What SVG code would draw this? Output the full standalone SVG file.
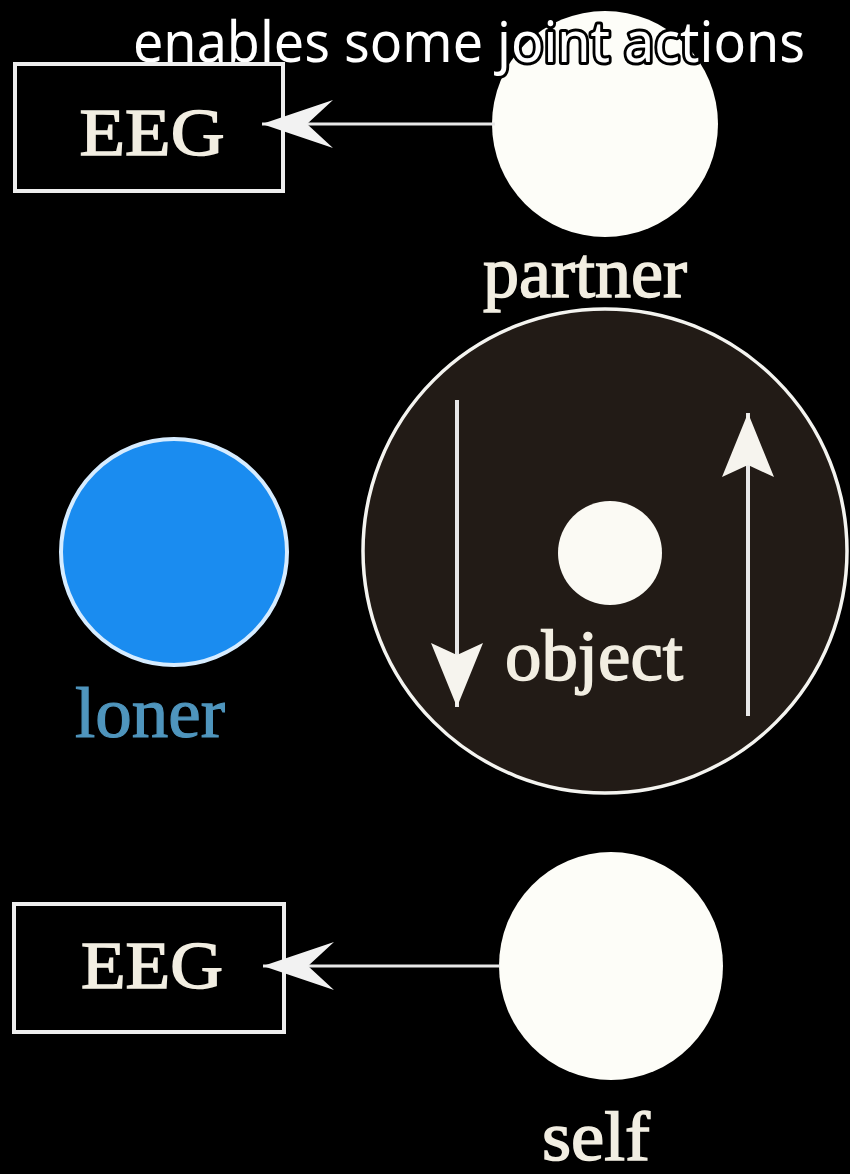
<svg xmlns="http://www.w3.org/2000/svg" width="850" height="1174" viewBox="0 0 850 1174">
<style>
.serif{font-family:"Liberation Serif","Times New Roman",serif;fill:#f2eee2;stroke:#f2eee2;stroke-width:1.5}
.box{fill:#000;stroke:#eeeeee;stroke-width:4}
.conn{stroke:#e8e8e8;fill:none}
.title{font-family:"Noto Sans","Open Sans",sans-serif;font-size:56px;fill:#fff;stroke:#000;stroke-width:6;paint-order:stroke;stroke-linejoin:round}
</style>
<defs>
<marker id="hHead" markerUnits="userSpaceOnUse" markerWidth="80" markerHeight="60" viewBox="0 -30 80 60" refX="71" refY="0" orient="auto" overflow="visible">
<path d="M0,-24 L71,0 L0,24 L26,0 Z" fill="#f2f2f2"/>
</marker>
<marker id="vHead" markerUnits="userSpaceOnUse" markerWidth="80" markerHeight="60" viewBox="0 -30 80 60" refX="64" refY="0" orient="auto" overflow="visible">
<path d="M0,-26 L64,0 L0,26 L12,0 Z" fill="#f6f4ee"/>
</marker>
</defs>
<rect width="850" height="1174" fill="#000"/>

<g id="partner">
<circle cx="605" cy="124" r="113" fill="#fdfdf8"/>
<text class="serif" x="585" y="297" font-size="72" text-anchor="middle" textLength="204" lengthAdjust="spacingAndGlyphs">partner</text>
</g>

<g id="title">
<text class="title" x="133" y="62" textLength="672" lengthAdjust="spacingAndGlyphs">enables some joint actions</text>
</g>

<g id="eeg-top">
<rect class="box" x="15" y="64" width="268" height="127"/>
<text class="serif" x="152" y="155" font-size="68" text-anchor="middle" textLength="145" lengthAdjust="spacingAndGlyphs">EEG</text>
</g>

<g id="object">
<circle cx="605" cy="551" r="242" fill="#221b16" stroke="#f4f4f0" stroke-width="3.5"/>
<circle cx="610" cy="553" r="52" fill="#fbfaf4"/>
<text class="serif" x="594" y="680" font-size="72" text-anchor="middle" textLength="178" lengthAdjust="spacingAndGlyphs">object</text>
</g>

<g id="loner">
<circle cx="174" cy="552" r="113" fill="#1a8cf0" stroke="#d6ecff" stroke-width="4"/>
<text x="150" y="737" font-family="Liberation Serif, Times New Roman, serif" font-size="72" fill="#4f95bd" stroke="#4f95bd" stroke-width="1.2" text-anchor="middle" textLength="150" lengthAdjust="spacingAndGlyphs">loner</text>
</g>

<g id="eeg-bottom">
<rect class="box" x="14" y="904" width="270" height="128"/>
<text class="serif" x="152" y="988" font-size="68" text-anchor="middle" textLength="142" lengthAdjust="spacingAndGlyphs">EEG</text>
</g>

<g id="self">
<ellipse cx="611" cy="966" rx="112" ry="114" fill="#fdfdf8"/>
<text class="serif" x="596" y="1160" font-size="70" text-anchor="middle" textLength="108" lengthAdjust="spacingAndGlyphs">self</text>
</g>

<g id="connectors">
<line class="conn" x1="495" y1="124" x2="262" y2="124" stroke-width="3" marker-end="url(#hHead)"/>
<line class="conn" x1="500" y1="966" x2="263" y2="966" stroke-width="3" marker-end="url(#hHead)"/>
<line class="conn" x1="457" y1="400" x2="457" y2="707" stroke-width="4" marker-end="url(#vHead)"/>
<line class="conn" x1="748" y1="716" x2="748" y2="413" stroke-width="4" marker-end="url(#vHead)"/>
</g>
</svg>
